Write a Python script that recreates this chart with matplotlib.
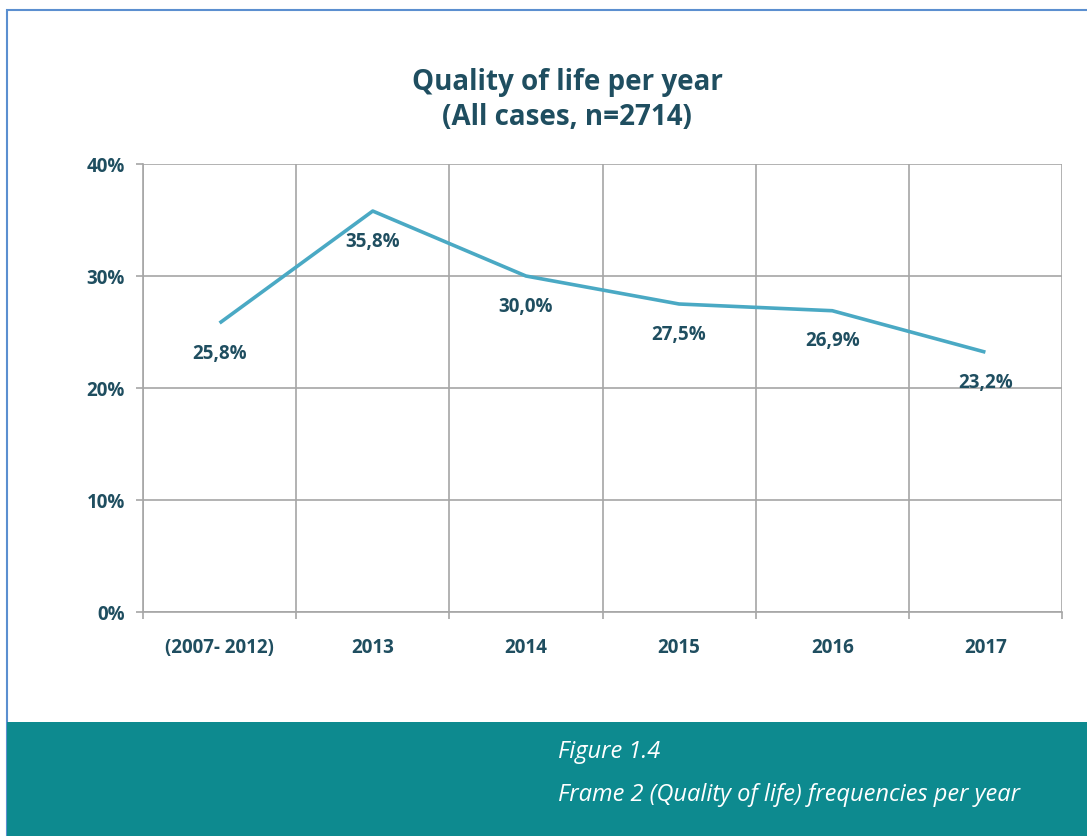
import matplotlib.pyplot as plt
from matplotlib.patches import Rectangle
from matplotlib.ticker import FixedLocator, FuncFormatter

categories = ['(2007- 2012)', '2013', '2014', '2015', '2016', '2017']
values = [25.8, 35.8, 30.0, 27.5, 26.9, 23.2]
yticks = [0, 10, 20, 30, 40]

text_color = '#1f4e60'
line_color = '#4aa9c4'
grid_color = '#a6a6a6'
band_color = '#0d8a8f'

plt.rcParams['font.family'] = ['Open Sans', 'DejaVu Sans']

fig = plt.figure(figsize=(10.87, 8.36), dpi=100)
W, H = 1087, 836

# outer frame and bottom caption band
fig.patches.append(Rectangle((7 / W, 0), 1.2, 1 - 10 / H, transform=fig.transFigure,
                             fill=False, edgecolor='#5b8fd0', linewidth=1.5, zorder=0))
fig.patches.append(Rectangle((7 / W, 0), 1.2, (836 - 722) / H, transform=fig.transFigure,
                             facecolor=band_color, edgecolor='none', zorder=1))

ax = fig.add_axes([143 / W, 1 - 612 / H, (1062 - 143) / W, (612 - 164) / H])
x = list(range(len(categories)))
ax.plot(x, values, color=line_color, linewidth=2.6, solid_capstyle='butt', zorder=3)

for xi, v in zip(x, values):
    ax.annotate(f'{v:.1f}%'.replace('.', ','), (xi, v), xytext=(0, -22),
                textcoords='offset points', ha='center', va='center',
                fontsize=13.5, fontweight='bold', color=text_color, zorder=4)

ax.set_xlim(-0.5, len(categories) - 0.5)
ax.set_ylim(0, 40)
ax.yaxis.set_major_locator(FixedLocator(yticks))
ax.yaxis.set_major_formatter(FuncFormatter(lambda v, p: f'{v:.0f}%'))
ax.set_xticks(x)
ax.set_xticklabels(categories)
ax.xaxis.set_minor_locator(FixedLocator([i - 0.5 for i in range(len(categories) + 1)]))

ax.grid(axis='y', color=grid_color, linewidth=1.2)
ax.grid(axis='x', which='minor', color=grid_color, linewidth=1.2)
ax.set_axisbelow(True)
for s in ax.spines.values():
    s.set_visible(False)
ax.spines['left'].set_visible(True)
ax.spines['left'].set_color(grid_color)
ax.spines['left'].set_linewidth(1.2)
ax.spines['bottom'].set_visible(True)
ax.spines['bottom'].set_color(grid_color)
ax.spines['bottom'].set_linewidth(1.2)

ax.tick_params(axis='x', which='major', length=0, pad=19, labelsize=13.5, labelcolor=text_color)
ax.tick_params(axis='x', which='minor', length=5, color=grid_color, width=1.2)
ax.tick_params(axis='y', length=5, color=grid_color, width=1.2, pad=8,
               labelsize=13.5, labelcolor=text_color)
for lab in ax.get_xticklabels() + ax.get_yticklabels():
    lab.set_fontweight('bold')

fig.text(567 / W, 1 - 100 / H, 'Quality of life per year\n(All cases, n=2714)',
         ha='center', va='center', fontsize=20, fontweight='bold',
         color=text_color, linespacing=1.3)

fig.text(558 / W, 1 - 752 / H, 'Figure 1.4', ha='left', va='center',
         fontsize=17, style='italic', color='white')
fig.text(558 / W, 1 - 795 / H, 'Frame 2 (Quality of life) frequencies per year',
         ha='left', va='center', fontsize=17, style='italic', color='white')

fig.savefig('out.png', dpi=100)
